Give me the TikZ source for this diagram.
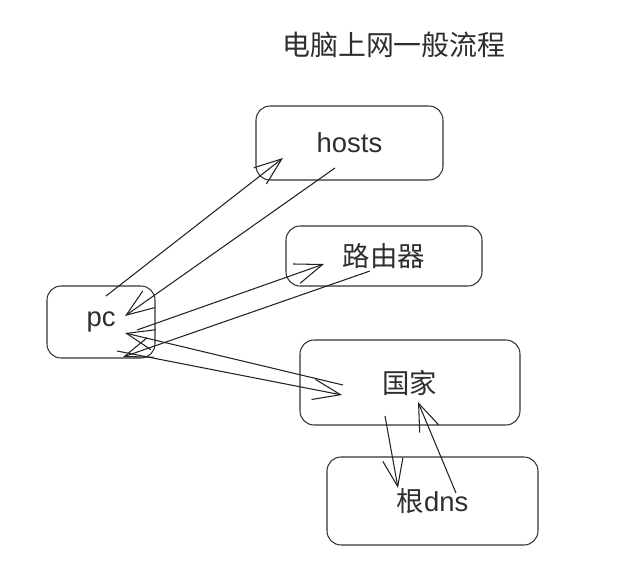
\documentclass[tikz,border=0pt]{standalone}
\usepackage{fontspec}
\setmainfont{Liberation Sans}
\newfontfamily\cjk{Noto Sans CJK SC}
\usetikzlibrary{arrows.meta}
\definecolor{reuna}{HTML}{333333}
\definecolor{viiva}{HTML}{222222}
\definecolor{teksti}{HTML}{2E2E2E}

\begin{document}
\begin{tikzpicture}[x=0.02cm,y=-0.02cm,
		laatikko/.style={draw=reuna,text=teksti,line width=0.6pt,rounded corners=0.28cm,font=\fontsize{15.6}{18}\selectfont},
		nuoli/.style={draw=viiva,line width=0.6pt,-{Straight Barb[length=5.5mm,width=4.1mm]}}]
				\useasboundingbox (0,0) rectangle (627,575);
				\node[text=teksti,font=\fontsize{15.9}{18}\selectfont\cjk] (otsikko) at (394,45) {电脑上网一般流程};
				\node[laatikko,minimum width=3.74cm,minimum height=1.48cm] (hosts) at (349.5,143) {hosts};
				\node[laatikko,minimum width=3.92cm,minimum height=1.2cm] (reititin) at (384,256) {\cjk 路由器};
				\node[laatikko,minimum width=2.16cm,minimum height=1.44cm] (pc) at (101,322) {pc};
				\node[laatikko,minimum width=4.4cm,minimum height=1.7cm] (maa) at (410,382.5) {\cjk 国家};
				\node[laatikko,minimum width=4.22cm,minimum height=1.76cm] (juuri) at (432.5,501) {{\cjk 根}dns};
				\draw[nuoli] ([shift={(5,-26)}]pc.center) -- ([shift={(-66.5,15)}]hosts.center);
				\draw[nuoli] ([shift={(-14.5,25)}]hosts.center) -- ([shift={(24,-6)}]pc.center);
				\draw[nuoli] ([shift={(36,8)}]pc.center) -- ([shift={(-60,8)}]reititin.center);
				\draw[nuoli] ([shift={(-14,15)}]reititin.center) -- ([shift={(22,35)}]pc.center);
				\draw[nuoli] ([shift={(-67,2.5)}]maa.center) -- ([shift={(24,11)}]pc.center);
				\draw[nuoli] ([shift={(16,29)}]pc.center) -- ([shift={(-68,12.5)}]maa.center);
				\draw[nuoli] ([shift={(-25,33.5)}]maa.center) -- ([shift={(-34.5,-13)}]juuri.center);
				\draw[nuoli] ([shift={(23.5,-8)}]juuri.center) -- ([shift={(8,19.5)}]maa.center);
			\end{tikzpicture}
\end{document}
